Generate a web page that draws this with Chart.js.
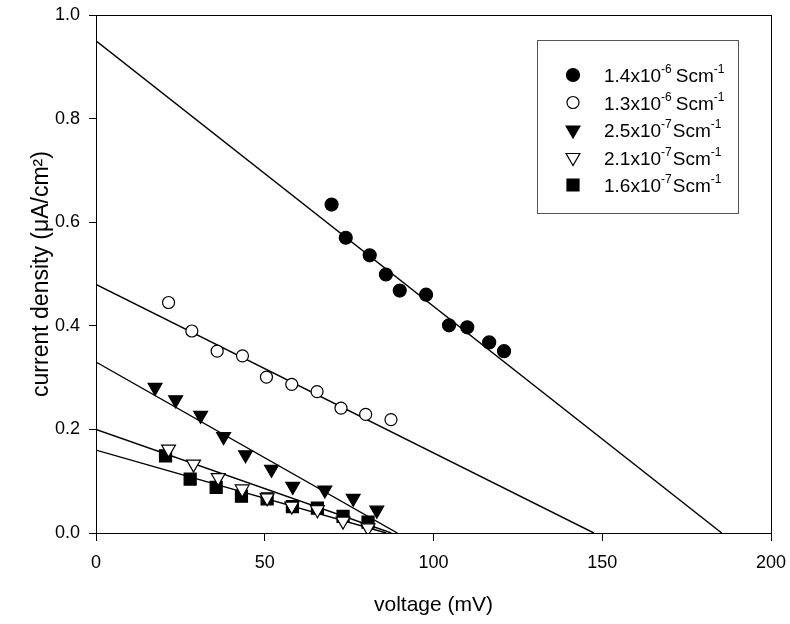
<!DOCTYPE html>
<html>
<head>
<meta charset="utf-8">
<script src="https://cdn.jsdelivr.net/npm/chart.js@4.4.0/dist/chart.umd.min.js"></script>
<style>
    body { margin: 0; background: #fff; }
</style>
</head>
<body>
<canvas id="myChart" width="790" height="624"></canvas>
<script>
// values
const xTicks = [0, 50, 100, 150, 200];
const yTicks = [0, 0.2, 0.4, 0.6, 0.8, 1.0];

const s1x = [69.8, 74.0, 81.1, 85.9, 90.0, 97.8, 104.6, 110.0, 116.5, 120.9];
const s1y = [0.634, 0.570, 0.536, 0.499, 0.468, 0.460, 0.401, 0.397, 0.368, 0.351];

const s2x = [21.5, 28.4, 35.9, 43.4, 50.5, 58.0, 65.5, 72.6, 79.9, 87.4];
const s2y = [0.445, 0.390, 0.351, 0.342, 0.301, 0.287, 0.273, 0.241, 0.229, 0.219];

const s3x = [17.5, 23.6, 31.0, 37.8, 44.3, 52.0, 58.3, 67.8, 76.2, 83.2];
const s3y = [0.281, 0.257, 0.227, 0.186, 0.151, 0.123, 0.090, 0.083, 0.067, 0.044];

const s4x = [21.5, 28.9, 36.2, 43.3, 50.7, 58.0, 65.6, 73.2, 80.6];
const s4y = [0.162, 0.133, 0.107, 0.085, 0.068, 0.052, 0.045, 0.023, 0.010];

const s5x = [20.6, 27.9, 35.6, 43.1, 50.7, 58.2, 65.6, 73.2, 80.6];
const s5y = [0.149, 0.104, 0.088, 0.071, 0.066, 0.051, 0.048, 0.032, 0.021];

// fitted lines: current at 0 mV, voltage where current reaches 0
const fitStart = [0.95, 0.48, 0.33, 0.20, 0.16];
const fitEnd = [185.4, 147.5, 89.3, 87.5, 86.0];

const legendBase = ['1.4x10', '1.3x10', '2.5x10', '2.1x10', '1.6x10'];
const legendExp = ['-6', '-6', '-7', '-7', '-7'];

const fontFam = '"Liberation Sans", Arial, sans-serif';

// marker look for each series
const markers = [
    { pointStyle: 'circle', radius: 6.5, rotation: 0, fill: '#000' },
    { pointStyle: 'circle', radius: 6, rotation: 0, fill: '#fff' },
    { pointStyle: 'triangle', radius: 8, rotation: 180, fill: '#000' },
    { pointStyle: 'triangle', radius: 8, rotation: 180, fill: '#fff' },
    { pointStyle: 'rect', radius: 8.5, rotation: 0, fill: '#000' }
];

function toPoints(xs, ys) {
    return xs.map((x, i) => ({ x: x, y: ys[i] }));
}

const seriesX = [s1x, s2x, s3x, s4x, s5x];
const seriesY = [s1y, s2y, s3y, s4y, s5y];

const datasets = [];
for (let i = 0; i < 5; i++) {
    const m = markers[i];
    datasets.push({
        data: toPoints(seriesX[i], seriesY[i]),
        showLine: false,
        pointStyle: m.pointStyle,
        pointRadius: m.radius,
        pointRotation: m.rotation,
        pointBackgroundColor: m.fill,
        pointBorderColor: '#000',
        pointBorderWidth: 1.2
    });
}
for (let i = 0; i < 5; i++) {
    datasets.push({
        data: [{ x: 0, y: fitStart[i] }, { x: fitEnd[i], y: 0 }],
        showLine: true,
        borderColor: '#000',
        borderWidth: 1.4,
        pointRadius: 0
    });
}

// box round the plot and the legend with superscripts
const framePlugin = {
    id: 'frame',
    afterDraw(chart) {
        const ctx = chart.ctx;
        const a = chart.chartArea;
        ctx.save();
        ctx.strokeStyle = '#000';
        ctx.lineWidth = 1;
        ctx.strokeRect(Math.round(a.left) + 0.5, Math.round(a.top) + 0.5, Math.round(a.right - a.left), Math.round(a.bottom - a.top));

        // legend
        ctx.fillStyle = '#fff';
        ctx.fillRect(537, 40, 201, 173);
        ctx.strokeStyle = '#555';
        ctx.strokeRect(537.5, 40.5, 201, 173);
        for (let i = 0; i < 5; i++) {
            const y = 75 + i * 27.5;
            const m = markers[i];
            ctx.fillStyle = m.fill;
            ctx.strokeStyle = '#000';
            ctx.lineWidth = 1.2;
            Chart.helpers.drawPoint(ctx, { pointStyle: m.pointStyle, radius: m.radius, rotation: m.rotation, borderWidth: 1.2 }, 573, y);

            ctx.fillStyle = '#000';
            ctx.textBaseline = 'alphabetic';
            ctx.textAlign = 'left';
            let tx = 604;
            const base = y + 7;
            ctx.font = '19px ' + fontFam;
            ctx.fillText(legendBase[i], tx, base);
            tx += ctx.measureText(legendBase[i]).width;
            ctx.font = '12px ' + fontFam;
            ctx.fillText(legendExp[i], tx, base - 9);
            tx += ctx.measureText(legendExp[i]).width + (i < 2 ? 4 : 1);
            ctx.font = '19px ' + fontFam;
            ctx.fillText('Scm', tx, base);
            tx += ctx.measureText('Scm').width;
            ctx.font = '12px ' + fontFam;
            ctx.fillText('-1', tx, base - 9);
        }
        ctx.restore();
    }
};

const ctx = document.getElementById('myChart');
new Chart(ctx, {
    type: 'scatter',
    data: { datasets: datasets },
    options: {
        responsive: false,
        animation: false,
        layout: { padding: { left: 0, right: 19, top: 15, bottom: 0 } },
        plugins: {
            legend: { display: false },
            tooltip: { enabled: false }
        },
        scales: {
            x: {
                type: 'linear',
                min: 0,
                max: 200,
                afterBuildTicks: s => { s.ticks = xTicks.map(v => ({ value: v })); },
                afterFit: s => { s.height = 91; s.paddingLeft = 0; s.paddingRight = 0; },
                grid: { drawOnChartArea: false, tickLength: 8, color: '#000' },
                border: { color: '#000', width: 1 },
                ticks: { color: '#000', font: { family: fontFam, size: 18 }, padding: 11, maxRotation: 0 },
                title: { display: true, text: 'voltage (mV)', color: '#000', font: { family: fontFam, size: 21 }, padding: { top: 4, bottom: 6 } }
            },
            y: {
                type: 'linear',
                min: 0,
                max: 1,
                afterBuildTicks: s => { s.ticks = yTicks.map(v => ({ value: v })); },
                afterFit: s => { s.width = 96; s.paddingTop = 0; s.paddingBottom = 0; },
                grid: { drawOnChartArea: false, tickLength: 7, color: '#000' },
                border: { color: '#000', width: 1 },
                ticks: { color: '#000', font: { family: fontFam, size: 18 }, padding: 9, callback: v => v.toFixed(1) },
                title: { display: true, text: 'current density (\u03BCA/cm\u00B2)', color: '#000', font: { family: fontFam, size: 23 }, padding: { top: 28, bottom: 0 } }
            }
        }
    },
    plugins: [framePlugin]
});
</script>
</body>
</html>
